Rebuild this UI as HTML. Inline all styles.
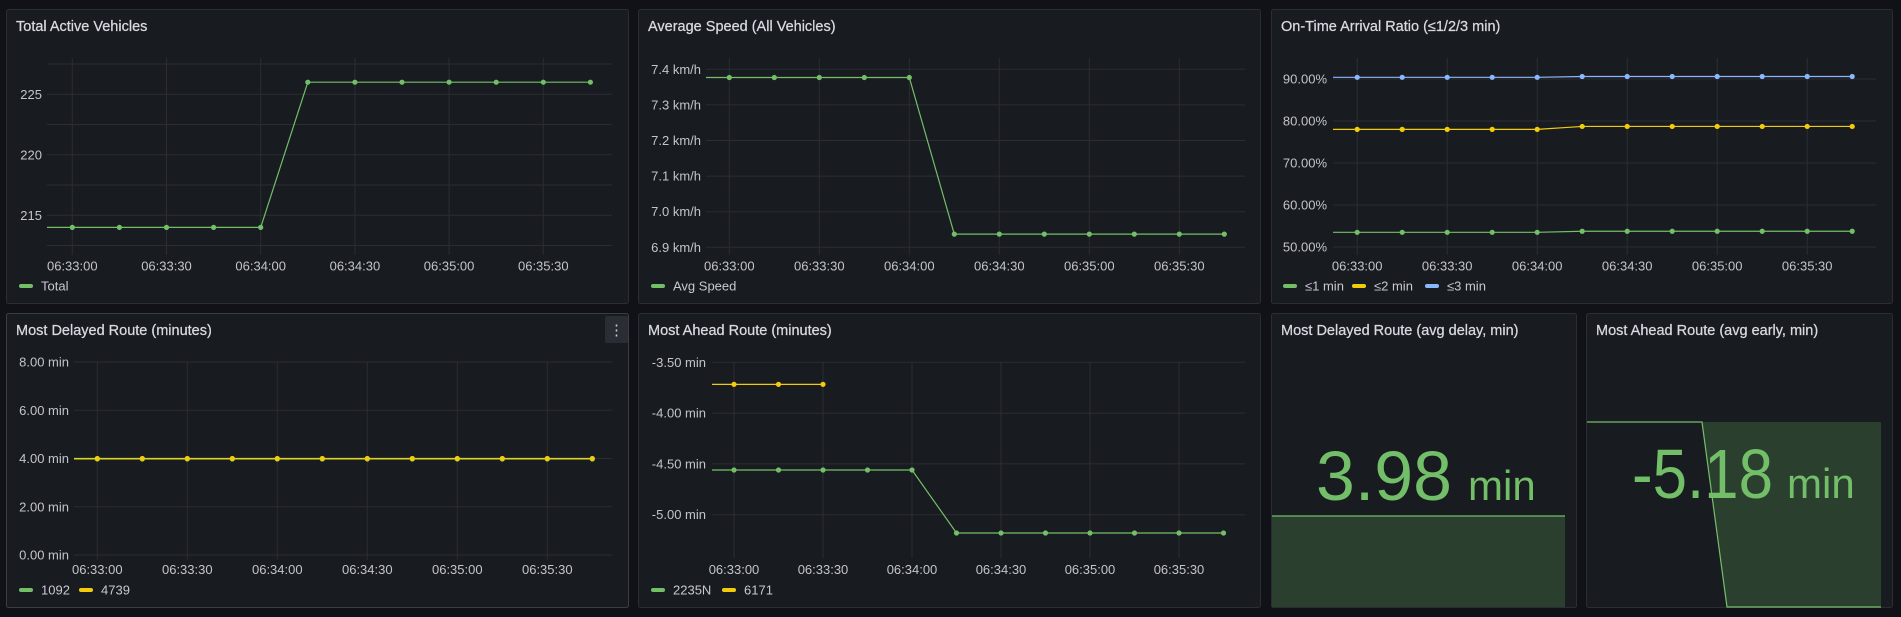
<!DOCTYPE html>
<html><head><meta charset="utf-8"><style>
html,body{margin:0;padding:0;background:#111217;width:1901px;height:617px;overflow:hidden}
svg{display:block;font-family:"Liberation Sans",Arial,sans-serif}
.title{fill:#d8d9e2;font-size:14.5px;stroke:#d8d9e2;stroke-width:0.25px}
.tick{fill:#c3c4cd;font-size:13px}
.leg{fill:#c8c9d2;font-size:13px}
</style></head><body>
<svg id="dash" width="1901" height="617" viewBox="0 0 1901 617" xmlns="http://www.w3.org/2000/svg">
<rect x="0" y="0" width="1901" height="617" fill="#111217"/>
</svg>
<script>
// ---- data ----
const times = [0,15,30,45,60,75,90,105,120,135,150,165]; // seconds since 06:33:00
const xTickSecs = [0,30,60,90,120,150];
const xTickLabels = ["06:33:00","06:33:30","06:34:00","06:34:30","06:35:00","06:35:30"];

const totalVehicles = [214,214,214,214,214,226,226,226,226,226,226,226];
const p1TickVals = [215,220,225];
const p1TickLabels = ["215","220","225"];

const avgSpeed = [7.377,7.377,7.377,7.377,7.377,6.937,6.937,6.937,6.937,6.937,6.937,6.937];
const p2TickVals = [6.9,7.0,7.1,7.2,7.3,7.4];
const p2TickLabels = ["6.9 km/h","7.0 km/h","7.1 km/h","7.2 km/h","7.3 km/h","7.4 km/h"];

const onTime1 = [53.5,53.5,53.5,53.5,53.5,53.75,53.75,53.75,53.75,53.75,53.75,53.75];
const onTime2 = [78.0,78.0,78.0,78.0,78.0,78.7,78.7,78.7,78.7,78.7,78.7,78.7];
const onTime3 = [90.4,90.4,90.4,90.4,90.4,90.6,90.6,90.6,90.6,90.6,90.6,90.6];
const p3TickVals = [50,60,70,80,90];
const p3TickLabels = ["50.00%","60.00%","70.00%","80.00%","90.00%"];

const delayed1092 = [3.98,3.98,3.98,3.98,3.98,3.98,3.98,3.98,3.98,3.98,3.98,3.98];
const delayed4739 = [4.0,4.0,4.0,4.0,4.0,4.0,4.0,4.0,4.0,4.0,4.0,4.0];
const p4TickVals = [0,2,4,6,8];
const p4TickLabels = ["0.00 min","2.00 min","4.00 min","6.00 min","8.00 min"];

const ahead2235N = [-4.56,-4.56,-4.56,-4.56,-4.56,-5.18,-5.18,-5.18,-5.18,-5.18,-5.18,-5.18];
const ahead6171 = [-3.717,-3.717,-3.717,null,null,null,null,null,null,null,null,null];
const p5TickVals = [-5,-4.5,-4,-3.5];
const p5TickLabels = ["-5.00 min","-4.50 min","-4.00 min","-3.50 min"];

const statDelayed = 3.98;
const statAhead = -5.18;
const sparkDelayed = [3.98,3.98,3.98,3.98,3.98,3.98,3.98,3.98,3.98,3.98,3.98,3.98];
const sparkAhead = [-4.56,-4.56,-4.56,-4.56,-4.56,-5.18,-5.18,-5.18,-5.18,-5.18,-5.18,-5.18];

// ---- drawing ----
const NS="http://www.w3.org/2000/svg";
const svg=document.getElementById('dash');
function mk(tag,attrs,parent){const e=document.createElementNS(NS,tag);for(const k in attrs)e.setAttribute(k,attrs[k]);(parent||svg).appendChild(e);return e;}
const GREEN="#73bf69",YELLOW="#f2cc0c",BLUE="#8ab8ff",GRID="#2b2d33";

function panel(name,x,y,w,h,title){
  const g=mk('g',{});
  
  
  const r=mk('rect',{x:x+0.5,y:y+0.5,width:w-1,height:h-1,rx:2,fill:'#181b1f',stroke:'#2a2d33'},g);
  
  
  const t=mk('text',{x:x+10,y:y+22,class:'title'},g);
  
  
  t.textContent=title;
  return g;
}

function timeseries(g,name,c,series,tickVals,tickLabels,legend){
  const yS=v=>c.yA+(v-c.vA)*(c.yB-c.yA)/(c.vB-c.vA);
  const xS=s=>c.x0+s*c.px30/30;
  for(const v of c.gridVals){
    const l=mk('line',{x1:c.L,x2:c.R,y1:yS(v),y2:yS(v),stroke:GRID,'stroke-width':1},g);
    
    
  }
  tickVals.forEach((v,i)=>{
    const t=mk('text',{x:c.labR,y:yS(v)+4.5,class:'tick','text-anchor':'end'},g);
    
    
    t.textContent=tickLabels[i];
  });
  xTickSecs.forEach((s,i)=>{
    const l=mk('line',{x1:xS(s),x2:xS(s),y1:c.gT,y2:c.gB,stroke:GRID,'stroke-width':1},g);
    
    
    const t=mk('text',{x:xS(s),y:c.xLabY+4.5,class:'tick','text-anchor':'middle'},g);
    
    
    t.textContent=xTickLabels[i];
  });
  series.forEach(se=>{
    const pts=[];
    se.vals.forEach((v,i)=>{if(v!==null)pts.push([xS(times[i]),yS(v)]);});
    if(!pts.length)return;
    const all=[[c.L,pts[0][1]]].concat(pts);
    const p=mk('polyline',{points:all.map(p=>p.join(',')).join(' '),fill:'none',stroke:se.color,'stroke-width':1.2},g);
    
    
    pts.forEach(pt=>{
      const d=mk('circle',{cx:pt[0],cy:pt[1],r:2.6,fill:se.color},g);
      
      
    });
  });
  legend.forEach(le=>{
    const s=mk('rect',{x:le.x,y:c.legY-2,width:14,height:4,rx:2,fill:le.color},g);
    
    
    const t=mk('text',{x:le.x+22,y:c.legY+4.5,class:'leg'},g);
    
    
    t.textContent=le.label;
  });
}
function range(a,b,st){const r=[];for(let v=a;v<=b+1e-9;v+=st)r.push(+v.toFixed(4));return r;}

let g=panel('total-active-vehicles-panel',6,9,623,295,'Total Active Vehicles');
timeseries(g,'p1',{L:47,R:612,x0:72.3,px30:94.2,yA:94.3,vA:225,yB:215.3,vB:215,gridVals:range(212.5,227.5,2.5),gT:58,gB:255,labR:42,xLabY:266,legY:286},
 [{key:'total',vals:totalVehicles,color:GREEN}],p1TickVals,p1TickLabels,[{x:19,color:GREEN,label:'Total'}]);

g=panel('average-speed-panel',638,9,623,295,'Average Speed (All Vehicles)');
timeseries(g,'p2',{L:706,R:1245,x0:729.3,px30:90,yA:69.3,vA:7.4,yB:247.3,vB:6.9,gridVals:range(6.9,7.4,0.1),gT:58,gB:255,labR:701,xLabY:266,legY:286},
 [{key:'avg-speed',vals:avgSpeed,color:GREEN}],p2TickVals,p2TickLabels,[{x:651,color:GREEN,label:'Avg Speed'}]);

g=panel('on-time-arrival-panel',1271,9,622,295,'On-Time Arrival Ratio (≤1/2/3 min)');
timeseries(g,'p3',{L:1333,R:1876,x0:1357.2,px30:90,yA:79,vA:90,yB:247,vB:50,gridVals:range(50,90,10),gT:58,gB:255,labR:1327,xLabY:266,legY:286},
 [{key:'le1',vals:onTime1,color:GREEN},{key:'le2',vals:onTime2,color:YELLOW},{key:'le3',vals:onTime3,color:BLUE}],p3TickVals,p3TickLabels,
 [{x:1283,color:GREEN,label:'≤1 min'},{x:1352,color:YELLOW,label:'≤2 min'},{x:1425,color:BLUE,label:'≤3 min'}]);

g=panel('most-delayed-route-panel',6,313,623,295,'Most Delayed Route (minutes)');
g.querySelector('rect').setAttribute('stroke','#3a3d44');
timeseries(g,'p4',{L:74,R:612,x0:97.3,px30:90,yA:362,vA:8,yB:555,vB:0,gridVals:range(0,8,2),gT:362,gB:560,labR:69,xLabY:569.5,legY:590},
 [{key:'1092',vals:delayed1092,color:GREEN},{key:'4739',vals:delayed4739,color:YELLOW}],p4TickVals,p4TickLabels,
 [{x:19,color:GREEN,label:'1092'},{x:79,color:YELLOW,label:'4739'}]);
const mb=mk('rect',{x:605,y:316,width:23,height:27,rx:2,fill:'#2a2d33'},g);


const mt=mk('text',{x:616.5,y:335,'text-anchor':'middle',fill:'#ccccdc','font-size':'15px'},g);


mt.textContent='⋮';

g=panel('most-ahead-route-panel',638,313,623,295,'Most Ahead Route (minutes)');
timeseries(g,'p5',{L:712,R:1245,x0:734,px30:89,yA:362.3,vA:-3.5,yB:514.7,vB:-5,gridVals:range(-5,-3.5,0.5),gT:362,gB:558,labR:706,xLabY:569.5,legY:590},
 [{key:'2235N',vals:ahead2235N,color:GREEN},{key:'6171',vals:ahead6171,color:YELLOW}],p5TickVals,p5TickLabels,
 [{x:651,color:GREEN,label:'2235N'},{x:722,color:YELLOW,label:'6171'}]);

function stat(name,x,w,title,value,vals,spark,num,numLen,fillUp){
  const g=panel(name,x,313,w,295,title);
  const lo=Math.min(...vals),hi=Math.max(...vals);
  const top=422,bot=607;
  const yS=v=>hi===lo?(top+bot)/2+1.5:top+(hi-v)*(bot-top)/(hi-lo);
  const xS=i=>spark.x0+i*spark.step;
  const pts=vals.map((v,i)=>[xS(i),yS(v)]);
  const line=[[x+1,pts[0][1]]].concat(pts).concat([[spark.right,pts[pts.length-1][1]]]);
  const base=fillUp?top:bot;
  let poly=line.map(p=>p.join(',')).join(' ')+' '+spark.right+','+base+' '+(x+1)+','+base;
  const f=mk('polygon',{points:poly,fill:'rgba(115,191,105,0.22)',stroke:'none'},g);
  
  
  const l=mk('polyline',{points:line.map(p=>p.join(',')).join(' '),fill:'none',stroke:GREEN,'stroke-width':1.2},g);
  
  
  const t=mk('text',{x:num.x,y:num.y,fill:GREEN,'font-size':'70px',textLength:numLen,lengthAdjust:'spacingAndGlyphs'},g);
  
  
  t.textContent=value.toFixed(2);
  const u=mk('text',{x:num.ux,y:num.y,fill:GREEN,'font-size':'42px'},g);
  
  
  u.textContent='min';
}
stat('most-delayed-stat-panel',1271,306,'Most Delayed Route (avg delay, min)',statDelayed,sparkDelayed,{x0:1290,step:25,right:1565},{x:1316,ux:1468,y:500},136,false);
stat('most-ahead-stat-panel',1586,307,'Most Ahead Route (avg early, min)',statAhead,sparkAhead,{x0:1602,step:25,right:1881},{x:1632,ux:1787,y:498},141,true);
</script>
</body></html>
